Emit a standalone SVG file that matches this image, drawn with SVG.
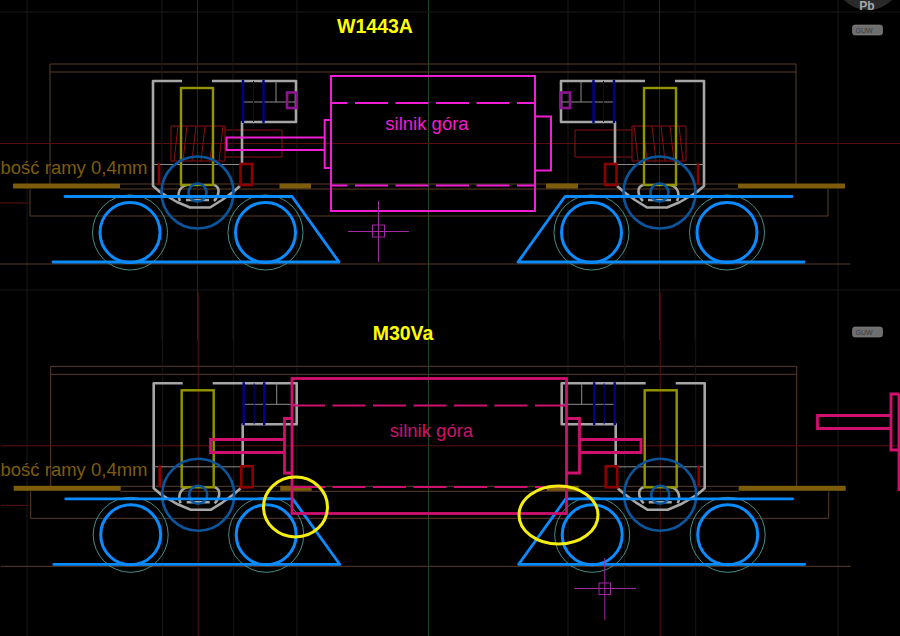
<svg xmlns="http://www.w3.org/2000/svg" width="900" height="636" viewBox="0 0 900 636">
<style>
.f{font-family:"Liberation Sans",Arial,sans-serif}
.g{fill:none;stroke:#a6a6a6;stroke-width:2.6;stroke-linejoin:round}
.gt{fill:none;stroke:#8c8c8c;stroke-width:1}
.ol{fill:none;stroke:#949400;stroke-width:2.4}
.nb{fill:none;stroke:#00008c;stroke-width:2.4}
.nt{fill:none;stroke:#00008c;stroke-width:1}
.db{fill:none;stroke:#0b559c;stroke-width:2.6}
.r{fill:none;stroke:#8c0000;stroke-width:2.6}
.rt{fill:none;stroke:#8c1010;stroke-width:1}
.b{fill:none;stroke:#0a8cff;stroke-width:2.8;stroke-linecap:round;stroke-linejoin:round}
.w{fill:none;stroke:#0a8cff;stroke-width:3}
.t{fill:none;stroke:#4f9c94;stroke-width:.9}
.fr{fill:none;stroke:#5a3c28;stroke-width:1}
.bar{fill:#7d5c0c}
.ax{fill:none;stroke:#5a0f0f;stroke-width:1}
.dim{fill:none;stroke:#181818;stroke-width:1}
.m{fill:none;stroke:#f01ed2;stroke-width:2}
.c{fill:none;stroke:#d0106e;stroke-width:2.8}
.pu{fill:none;stroke:#a028a0;stroke-width:1}
.y{fill:none;stroke:#f5ee10;stroke-width:3}
.lab{fill:#7d5c0c;font-size:18.5px}
.ti{fill:#ffff00;font-size:19.500px;font-weight:bold;text-anchor:middle}
.btn{fill:#6e6e6e;stroke:#8a8a8a;stroke-width:.6}
.btx{fill:#3c3c3c;font-size:7px;text-anchor:middle}
</style>
<defs>
<g id="bogie">
<path class="dim" d="M162,-10V340M233,-10V340"/>
<path class="ax" d="M197.500,-10V340"/>
<path class="g" d="M182,81H153V186L160,192L177,202L190,207.500H210L222,200L233,192L240,186"/>
<path class="g" d="M212,81H296V122H242V164"/>
<path class="g" d="M180,201C176,192 181,186 187,185M214,185C221,187 219,196 214,201M186,200H209"/>
<path class="gt" d="M153,164.500H242M242,102H296M276,81V102"/>
<path class="nb" d="M243,80V123M263.500,80V123"/>
<path class="nt" d="M253.500,81V122"/>
<rect class="ol" x="181" y="88" width="32" height="97"/>
<path class="r" d="M159,163V185"/>
<rect class="r" x="240.500" y="164" width="11.500" height="21"/>
<circle class="db" cx="197.500" cy="192.500" r="36"/>
<circle class="db" cx="197.500" cy="192.500" r="9"/>
</g>
<g id="spring">
<path class="rt" d="M171,126H225V130H282V157H225V161H171ZM225,130V157"/>
<path class="rt" d="M174,161L178,126M183,161L187,126M192,161L196,126M201,161L205,126M210,161L214,126M219,161L223,126"/>
</g>
<g id="wheels">
<circle class="w" cx="130" cy="232.500" r="30"/>
<circle class="t" cx="130" cy="232.500" r="37.500"/>
<circle class="w" cx="265.500" cy="232.500" r="30"/>
<circle class="t" cx="265.500" cy="232.500" r="37.500"/>
<path class="b" d="M65,196.500H292L339,262H53"/>
</g>
<g id="frame">
<path class="fr" d="M50,185V64H796V185M50,72H796M30,189V216H828V189M0,264H850"/>
<path class="fr" d="M120,184H738M120,189H738"/>
<rect class="bar" x="13" y="183.500" width="107" height="5"/>
<rect class="bar" x="279.500" y="183.500" width="31.500" height="5"/>
<rect class="bar" x="546" y="183.500" width="32" height="5"/>
<rect class="bar" x="738" y="183.500" width="107" height="5"/>
<path class="ax" d="M0,203H28"/>
<path class="ax" d="M0,143.500H900"/>
</g>
</defs>
<rect width="900" height="636" fill="#000"/>
<g id="grid">
<path class="dim" d="M297,0V636M568,0V636M838,0V636M27,0V636"/>
<path d="M428.500,0V636" fill="none" stroke="#1c4a1c" stroke-width="1"/>
</g>
<g id="connectors"><path class="dim" d="M0,12H900M0,290H900"/></g>
<g id="upper-frame"><use href="#frame"/></g>
<g id="lower-frame"><use href="#frame" transform="translate(.7,302.300)"/></g>
<g id="bogie-top-left">
<use href="#spring"/><use href="#bogie"/><use href="#wheels"/>
<rect x="287" y="92.500" width="9.500" height="15.500" fill="none" stroke="#8c1490" stroke-width="2.600"/>
</g>
<g id="bogie-top-right" transform="translate(857,0) scale(-1,1)">
<use href="#spring"/><use href="#bogie"/><use href="#wheels"/>
<rect x="287" y="92.500" width="9.500" height="15.500" fill="none" stroke="#8c1490" stroke-width="2.600"/>
</g>
<g id="bogie-bottom-left" transform="translate(.7,302.300)"><use href="#bogie"/><use href="#wheels"/></g>
<g id="bogie-bottom-right" transform="translate(857.700,302.300) scale(-1,1)"><use href="#bogie"/><use href="#wheels"/></g>
<g id="motor-top">
<rect class="m" x="331" y="76" width="204" height="135"/>
<path class="m" stroke-dasharray="33,7.500" stroke-dashoffset="16.500" d="M331,103H535M331,185.500H535"/>
<path class="m" d="M535,116.500H551V170.500H535M331,120H324.700V168H331M324.700,137.500H226.500V150H324.700"/>
<text class="f" x="427" y="130" font-size="18.500" fill="#f01ed2" text-anchor="middle">silnik góra</text>
</g>
<g id="motor-bottom">
<rect class="c" x="292" y="378.500" width="274.500" height="135"/>
<path class="c" style="stroke-width:1.800" stroke-dasharray="33,7.500" d="M292,405.500H566M292,487H566"/>
<path class="c" d="M566.500,418.500H579.500V473H566.500M292,418.500H284.500V473H292M284.500,439.500H210.500V452.500H284.500M579.500,439.500H641V452.500H579.500"/>
<text class="f" x="431.500" y="437" font-size="18.500" fill="#d0106e" text-anchor="middle">silnik góra</text>
</g>
<g id="motor-detached">
<path class="c" d="M899,394H891V450H899M899,394V491M891,415.500H817.500V428.500H891"/>
</g>
<g id="cursor-top">
<rect class="pu" x="372.500" y="225" width="12" height="12"/>
<path class="pu" d="M348,231.500H409M378.500,201V262"/>
</g>
<g id="cursor-bottom">
<rect class="pu" x="599" y="583" width="11.500" height="11.500"/>
<path class="pu" d="M574.500,588.500H636M604.800,558V620"/>
</g>
<g id="label-rama-top"><text class="f lab" x="0.500" y="174">bość ramy 0,4mm</text></g>
<g id="label-rama-bottom"><text class="f lab" x="0.500" y="476">bość ramy 0,4mm</text></g>
<g id="title-top"><text class="f ti" x="375" y="33">W1443A</text></g>
<g id="title-bottom"><text class="f ti" x="403" y="340">M30Va</text></g>
<g id="highlight-left"><ellipse class="y" cx="295.500" cy="507" rx="32" ry="30"/></g>
<g id="highlight-right"><ellipse class="y" cx="558.500" cy="515" rx="39.500" ry="29"/></g>
<g id="ui-top">
<circle cx="868" cy="-24" r="34" fill="#2a2a2a"/>
<text class="f" x="867" y="10" font-size="12" font-weight="bold" fill="#a8a8a8" text-anchor="middle">Pb</text>
<rect class="btn" x="852.500" y="25" width="30" height="10" rx="2.500"/>
<text class="f btx" x="864" y="32.500">GUW</text>
</g>
<g id="ui-bottom">
<rect class="btn" x="852.500" y="327" width="30" height="10" rx="2.500"/>
<text class="f btx" x="864" y="334.500">GUW</text>
</g>
</svg>
